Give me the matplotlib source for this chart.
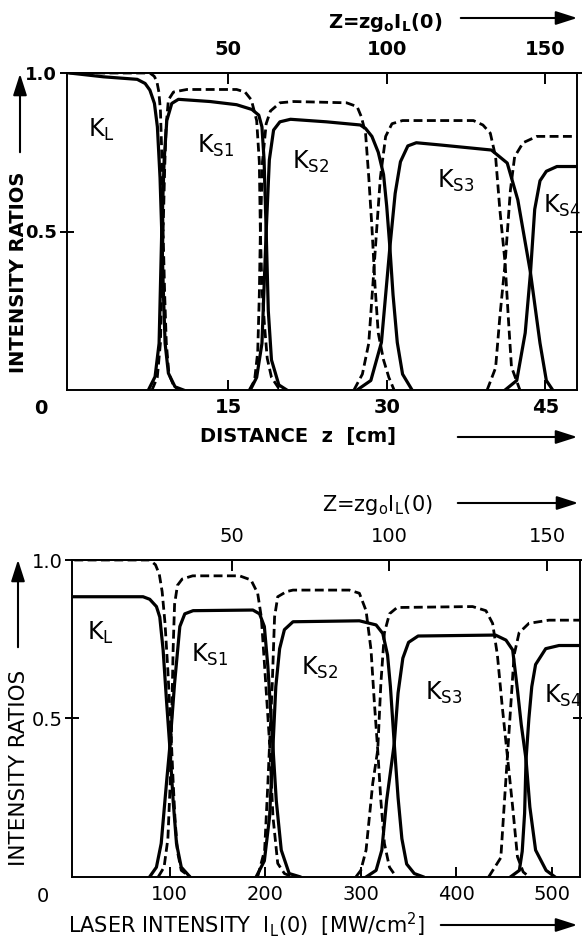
import matplotlib
matplotlib.use("Agg")
import matplotlib.pyplot as plt

plt.rcParams['font.family'] = ['DejaVu Sans']
plt.rcParams['mathtext.default'] = 'regular'

W, H = 582, 943

# ---------------- upper panel: distance z [cm] ----------------
# solid curves
up_KL_x = [0, 3.2, 6.4, 7.15, 7.6, 8.03, 8.31, 8.56, 8.72, 8.88, 9.04, 9.35, 9.98, 10.77]
up_KL_y = [1.0, 0.988, 0.98, 0.967, 0.946, 0.904, 0.83, 0.67, 0.5, 0.305, 0.147, 0.053, 0.01, 0.0]
up_KS1_x = [7.46, 8.09, 8.47, 8.72, 8.95, 9.2, 9.67, 10.3, 13.3, 15.8, 17.25, 17.9, 18.2, 18.4, 18.6, 18.8, 19.1, 19.8, 20.55]
up_KS1_y = [0.0, 0.042, 0.147, 0.5, 0.726, 0.85, 0.904, 0.917, 0.91, 0.9, 0.885, 0.867, 0.83, 0.726, 0.5, 0.25, 0.095, 0.016, 0.0]
up_KS2_x = [17.1, 17.7, 18.2, 18.6, 18.9, 19.3, 19.9, 20.9, 24.3, 27.5, 28.0, 28.6, 29.2, 29.7, 30.0, 30.3, 30.6, 31.0, 31.5, 32.4]
up_KS2_y = [0.0, 0.04, 0.147, 0.5, 0.726, 0.82, 0.846, 0.854, 0.846, 0.836, 0.825, 0.8, 0.75, 0.68, 0.58, 0.45, 0.3, 0.15, 0.05, 0.0]
up_KS3_x = [27.2, 28.5, 29.5, 30.3, 30.8, 31.3, 32.0, 32.8, 35.05, 39.9, 41.4, 42.4, 43.6, 44.5, 45.1, 45.7]
up_KS3_y = [0.0, 0.03, 0.15, 0.45, 0.62, 0.72, 0.77, 0.78, 0.773, 0.757, 0.716, 0.6, 0.37, 0.148, 0.03, 0.0]
up_KS4_x = [41.2, 42.3, 43.1, 43.6, 44.0, 44.5, 45.1, 46.1, 48.0]
up_KS4_y = [0.0, 0.03, 0.18, 0.37, 0.57, 0.66, 0.69, 0.705, 0.705]
# dashed curves
up_dL_x = [0, 7.6, 8.0, 8.25, 8.45, 8.6, 8.72, 8.85, 9.0, 9.15, 9.4, 9.9, 10.5]
up_dL_y = [1.0, 1.0, 0.99, 0.975, 0.94, 0.88, 0.75, 0.5, 0.3, 0.15, 0.05, 0.01, 0.0]
up_dS1_x = [7.8, 8.3, 8.6, 8.85, 9.0, 9.13, 9.35, 9.83, 11.1, 15.8, 16.6, 17.2, 17.7, 17.95, 18.05, 18.2, 18.45, 18.7, 19.1, 19.8, 20.3]
up_dS1_y = [0.0, 0.04, 0.15, 0.5, 0.7, 0.83, 0.915, 0.94, 0.948, 0.948, 0.94, 0.915, 0.85, 0.72, 0.5, 0.32, 0.2, 0.1, 0.04, 0.005, 0.0]
up_dS2_x = [17.0, 17.5, 17.8, 17.95, 18.05, 18.25, 18.6, 19.0, 19.9, 21.2, 26.2, 27.2, 27.6, 28.0, 28.3, 28.6, 28.9, 29.2, 29.7, 30.2, 30.7]
up_dS2_y = [0.0, 0.03, 0.12, 0.3, 0.5, 0.72, 0.84, 0.88, 0.906, 0.91, 0.906, 0.894, 0.862, 0.81, 0.673, 0.515, 0.326, 0.18, 0.095, 0.04, 0.0]
up_dS3_x = [26.9, 27.7, 28.3, 28.75, 29.07, 29.4, 29.9, 30.5, 31.5, 38.2, 39.1, 39.8, 40.3, 40.7, 41.2, 41.5, 41.8, 42.6]
up_dS3_y = [0.0, 0.05, 0.147, 0.36, 0.515, 0.67, 0.8, 0.84, 0.85, 0.85, 0.836, 0.81, 0.736, 0.57, 0.4, 0.23, 0.073, 0.0]
up_dS4_x = [39.5, 40.3, 40.7, 41.2, 41.7, 42.1, 42.9, 44.2, 48.0]
up_dS4_y = [0.0, 0.07, 0.23, 0.4, 0.63, 0.736, 0.78, 0.8, 0.8]

# ---------------- lower panel: laser intensity I_L(0) [MW/cm2] ----------------
lo_KL_x = [0, 72, 79, 86, 89.5, 93, 96.5, 100, 103.5, 107, 112, 121]
lo_KL_y = [0.884, 0.884, 0.876, 0.853, 0.82, 0.716, 0.558, 0.41, 0.24, 0.105, 0.03, 0.0]
lo_KS1_x = [79, 86, 91, 96.5, 100, 105, 110.5, 115.7, 124.4, 187, 194, 199, 202.7, 208, 211.5, 216.7, 225, 236]
lo_KS1_y = [0.0, 0.03, 0.105, 0.295, 0.41, 0.61, 0.79, 0.83, 0.84, 0.842, 0.83, 0.79, 0.663, 0.41, 0.24, 0.084, 0.01, 0.0]
lo_KS2_x = [190.5, 199, 204.5, 208, 211, 215, 220, 229, 298.5, 316, 323, 328, 331, 335, 339, 343, 348, 356, 365]
lo_KS2_y = [0.0, 0.05, 0.19, 0.41, 0.6, 0.72, 0.78, 0.805, 0.808, 0.795, 0.768, 0.7, 0.6, 0.42, 0.25, 0.12, 0.04, 0.01, 0.0]
lo_KS3_x = [306, 316, 322, 327, 335, 339, 344, 350, 360, 441, 452, 459, 464, 468, 473, 477, 483, 494, 503]
lo_KS3_y = [0.0, 0.02, 0.084, 0.24, 0.42, 0.58, 0.69, 0.74, 0.76, 0.763, 0.747, 0.716, 0.59, 0.48, 0.37, 0.22, 0.084, 0.02, 0.0]
lo_KS4_x = [457, 466, 469, 471.5, 473, 476, 479, 483, 493.6, 507.5, 530]
lo_KS4_y = [0.0, 0.02, 0.08, 0.2, 0.37, 0.5, 0.6, 0.67, 0.72, 0.73, 0.73]
lo_dL_x = [0, 79, 85, 89, 92, 95, 98, 101, 103.5, 105.5, 108, 112, 121]
lo_dL_y = [1.0, 1.0, 0.985, 0.955, 0.9, 0.8, 0.65, 0.47, 0.3, 0.18, 0.08, 0.02, 0.0]
lo_dS1_x = [88, 94, 98, 100.5, 102, 103.5, 105, 108, 113, 124, 173, 185, 192, 195.8, 199.3, 202.7, 204.5, 208, 213, 220, 228]
lo_dS1_y = [0.0, 0.03, 0.12, 0.3, 0.5, 0.72, 0.86, 0.92, 0.94, 0.95, 0.95, 0.937, 0.895, 0.82, 0.663, 0.505, 0.42, 0.19, 0.042, 0.01, 0.0]
lo_dS2_x = [192, 199.3, 202.7, 204.5, 207.3, 209.7, 213, 222, 229, 288, 298.5, 305.5, 310.7, 314, 317.7, 321, 324.7, 330, 337]
lo_dS2_y = [0.0, 0.084, 0.295, 0.42, 0.61, 0.82, 0.884, 0.9, 0.905, 0.905, 0.895, 0.84, 0.716, 0.558, 0.4, 0.24, 0.105, 0.03, 0.0]
lo_dS3_x = [295, 300, 305.5, 312.5, 317.7, 321, 324.7, 330, 338, 417, 431, 438, 443, 448, 453.5, 459, 464, 470, 476]
lo_dS3_y = [0.0, 0.02, 0.084, 0.295, 0.4, 0.61, 0.77, 0.83, 0.85, 0.853, 0.84, 0.8, 0.7, 0.54, 0.38, 0.22, 0.063, 0.015, 0.0]
lo_dS4_x = [434, 446.6, 450, 453.5, 457, 460.5, 465.7, 476, 497, 530]
lo_dS4_y = [0.0, 0.06, 0.22, 0.38, 0.54, 0.7, 0.77, 0.8, 0.81, 0.81]

curve_names = [r'$K_L$', r'$K_{S1}$', r'$K_{S2}$', r'$K_{S3}$', r'$K_{S4}$']
up_name_x = [3.0, 13.8, 22.8, 36.5, 46.6]
up_name_y = [0.82, 0.77, 0.72, 0.66, 0.58]
lo_name_x = [27, 142, 257, 387, 512]
lo_name_y = [0.77, 0.70, 0.66, 0.58, 0.57]

up_top_ticks = [50, 100, 150]
up_bottom_ticks = [15, 30, 45]
lo_top_ticks = [50, 100, 150]
lo_bottom_ticks = [100, 200, 300, 400, 500]


fig = plt.figure(figsize=(W / 100, H / 100), dpi=100)


def fp(x, y):
    # pixel (from top-left) -> figure fraction
    return x / W, 1 - y / H


def arrow(x0, y0, x1, y1):
    fig.add_artist(matplotlib.patches.FancyArrowPatch(
        fp(x0, y0), fp(x1, y1), transform=fig.transFigure,
        arrowstyle='-|>,head_length=1.0,head_width=0.32', lw=1.5, color='black',
        mutation_scale=13))


def draw_panel(ax, solid, dashed, nx, ny, xlim, bticks, tticks, to_Z, from_Z, weight, ysize):
    for x, y in dashed:
        ax.plot(x, y, color='black', lw=2.0, ls=(0, (3.2, 1.6)), solid_capstyle='butt')
    for x, y in solid:
        ax.plot(x, y, color='black', lw=2.3, solid_joinstyle='round')
    for name, x, y in zip(curve_names, nx, ny):
        ax.text(x, y, name, fontsize=17, ha='center', va='center')
    ax.set_xlim(*xlim)
    ax.set_ylim(0, 1.0)
    for s in ax.spines.values():
        s.set_linewidth(1.4)
    ax.set_xticks(bticks)
    ax.set_xticklabels([str(t) for t in bticks], fontsize=14, fontweight=weight)
    ax.tick_params(axis='x', direction='in', length=7, width=1.4, pad=6)
    ax.set_yticks([0.5, 1.0])
    ax.set_yticklabels(['0.5', '1.0'], fontsize=ysize, fontweight=weight)
    ax.yaxis.set_ticks_position('both')
    ax.tick_params(axis='y', direction='inout', length=10, width=1.4, pad=2)
    sec = ax.secondary_xaxis('top', functions=(to_Z, from_Z))
    sec.set_xticks(tticks)
    sec.set_xticklabels([str(t) for t in tticks], fontsize=14, fontweight=weight)
    sec.tick_params(direction='in', length=8, width=1.4, pad=10)
    sec.spines['top'].set_linewidth(1.4)


# upper panel
ax1 = fig.add_axes([67 / W, 1 - 390 / H, 510 / W, 317 / H])
draw_panel(ax1,
           [(up_KL_x, up_KL_y), (up_KS1_x, up_KS1_y), (up_KS2_x, up_KS2_y),
            (up_KS3_x, up_KS3_y), (up_KS4_x, up_KS4_y)],
           [(up_dL_x, up_dL_y), (up_dS1_x, up_dS1_y), (up_dS2_x, up_dS2_y),
            (up_dS3_x, up_dS3_y), (up_dS4_x, up_dS4_y)],
           up_name_x, up_name_y, (-0.24, 48.0), up_bottom_ticks, up_top_ticks,
           lambda z: z * 10 / 3, lambda Z: Z * 0.3, 'bold', 13)

# lower panel
ax2 = fig.add_axes([72 / W, 1 - 876.7 / H, 508 / W, 316.7 / H])
draw_panel(ax2,
           [(lo_KL_x, lo_KL_y), (lo_KS1_x, lo_KS1_y), (lo_KS2_x, lo_KS2_y),
            (lo_KS3_x, lo_KS3_y), (lo_KS4_x, lo_KS4_y)],
           [(lo_dL_x, lo_dL_y), (lo_dS1_x, lo_dS1_y), (lo_dS2_x, lo_dS2_y),
            (lo_dS3_x, lo_dS3_y), (lo_dS4_x, lo_dS4_y)],
           lo_name_x, lo_name_y, (-2.4, 529.5), lo_bottom_ticks, lo_top_ticks,
           lambda i: i / 3.3, lambda Z: Z * 3.3, 'normal', 14)

# corner zeros
fig.text(*fp(41, 408), '0', fontsize=14, ha='center', va='center', fontweight='bold')
fig.text(*fp(43, 897), '0', fontsize=14, ha='center', va='center')

# axis titles
zlab = r'Z=zg$_o$I$_L$(0)'
fig.text(*fp(385, 22), zlab, fontsize=14, ha='center', va='center', fontweight='bold')
fig.text(*fp(377, 505), zlab, fontsize=15, ha='center', va='center')
fig.text(*fp(298, 437), r'DISTANCE  z  [cm]', fontsize=14, ha='center', va='center',
         fontweight='bold')
fig.text(*fp(247, 925), r'LASER INTENSITY  I$_L$(0)  [MW/cm$^2$]', fontsize=15,
         ha='center', va='center')
fig.text(*fp(19, 272), 'INTENSITY RATIOS', fontsize=14, rotation=90, ha='center',
         va='center', fontweight='bold')
fig.text(*fp(19, 768), 'INTENSITY RATIOS', fontsize=15.5, rotation=90, ha='center',
         va='center')

arrow(458, 18, 580, 18)
arrow(455, 503, 581, 503)
arrow(455, 437, 580, 437)
arrow(438, 925, 580, 925)
arrow(20, 155, 20, 71)
arrow(18, 650, 18, 557)

fig.savefig('out.png', dpi=100)
